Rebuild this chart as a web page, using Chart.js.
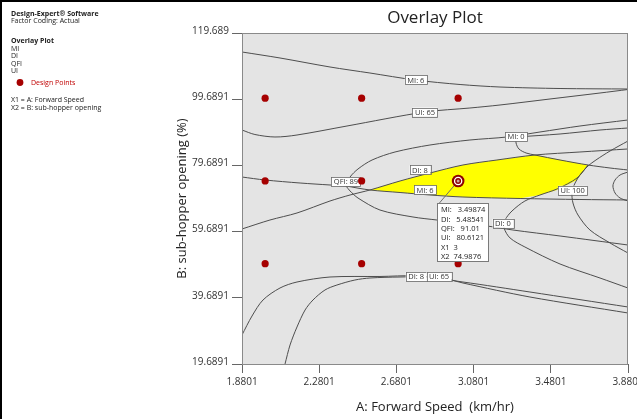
<!DOCTYPE html>
<html>
<head>
<meta charset="utf-8">
<script src="https://cdn.jsdelivr.net/npm/chart.js@4.4.1/dist/chart.umd.min.js"></script>
<style>
  html, body { margin: 0; padding: 0; background: #ffffff; }
  canvas { display: block; }
</style>
</head>
<body>
<canvas id="overlay" width="637" height="419"></canvas>
<script>
// Axis ticks (factor ranges)
const xTicks = [1.8801, 2.2801, 2.6801, 3.0801, 3.4801, 3.8801];
const xTickLabels = ['1.8801', '2.2801', '2.6801', '3.0801', '3.4801', '3.8801'];
const yTicks = [19.6891, 39.6891, 59.6891, 79.6891, 99.6891, 119.6891];
const yTickLabels = ['19.6891', '39.6891', '59.6891', '79.6891', '99.6891', '119.689'];

// Design points: A = forward speed (km/hr), B = sub-hopper opening (%)
const designSpeed   = [2.0, 2.5, 3.0, 2.0, 2.5, 3.0, 2.0, 2.5, 3.0];
const designOpening = [100, 100, 100, 75, 75, 75, 50, 50, 50];

// Contour traces, [speed, opening]
const mi6Upper = [[1.880,113.95],[2.077,112.14],[2.336,109.42],[2.543,107.60],[2.777,105.49],[3.010,104.13],[3.217,103.37],[3.528,102.92],[3.880,102.77]];
const ui65Upper = [[1.880,90.38],[1.947,89.02],[2.051,88.27],[2.165,88.87],[2.424,91.59],[2.828,95.82],[3.061,97.03],[3.217,97.94],[3.476,99.75],[3.735,101.56],[3.880,102.62]];
const mi0Arc = [[2.419,73.47],[2.440,76.18],[2.481,78.60],[2.554,81.32],[2.673,83.74],[2.854,85.85],[3.061,87.36],[3.253,88.27],[3.424,89.78],[3.631,91.59],[3.880,93.41]];
const mi0Branch = [[3.300,88.27],[3.528,89.18],[3.735,90.38],[3.880,90.99]];
const mi0Hook = [[3.300,88.27],[3.300,86.46],[3.315,84.65],[3.352,83.44],[3.398,82.83],[3.528,81.32],[3.673,79.81],[3.787,78.90],[3.880,78.30]];
const qfiLeft = [[1.880,76.18],[1.999,75.28],[2.181,74.37],[2.336,73.77],[2.419,73.47]];
const qfiLower = [[2.419,73.47],[2.440,71.96],[2.481,69.84],[2.595,66.21],[2.766,64.10],[2.890,63.19],[3.150,61.38],[3.284,60.17],[3.528,58.36],[3.880,55.64]];
const di8Upper = [[1.880,60.48],[2.025,63.19],[2.165,65.31],[2.336,68.93],[2.440,70.75],[2.543,72.26],[2.699,74.98],[2.854,77.39],[3.025,79.81],[3.201,81.32],[3.398,82.83],[3.631,83.74],[3.880,84.65]];
const mi6Lower = [[2.419,73.47],[2.543,72.26],[2.699,71.50],[2.854,70.75],[3.025,70.14],[3.321,69.69],[3.631,69.39],[3.880,69.24]];
const di0 = [[3.673,79.81],[3.616,75.88],[3.512,72.56],[3.424,70.75],[3.346,68.93],[3.279,65.91],[3.243,63.19],[3.238,60.78],[3.269,57.76],[3.346,55.04],[3.528,49.90],[3.735,45.67],[3.880,42.65]];
const ui100 = [[3.880,87.06],[3.787,84.04],[3.714,81.32],[3.673,79.51],[3.631,76.79],[3.606,74.37],[3.590,71.65],[3.595,68.33],[3.621,64.70],[3.683,60.17],[3.787,56.25],[3.880,53.22]];
const rightLoop = [[3.880,77.69],[3.839,76.79],[3.813,75.28],[3.802,73.47],[3.813,71.35],[3.839,69.84],[3.880,68.93]];
const di8Lower = [[1.880,28.45],[1.932,34.19],[1.989,39.03],[2.077,42.65],[2.165,44.46],[2.336,45.97],[2.595,46.13],[2.777,46.28],[3.025,44.46],[3.372,41.44],[3.880,36.91]];
const ui65Lower = [[2.103,19.69],[2.129,25.43],[2.165,30.87],[2.207,36.01],[2.248,39.03],[2.310,42.05],[2.372,43.55],[2.465,45.06],[2.543,45.67],[2.699,45.97],[2.896,45.97],[3.025,44.16],[3.372,39.93],[3.880,35.10]];

// Region where every criterion is met
const feasibleSpeed   = [2.543, 2.699, 2.854, 3.025, 3.201, 3.398, 3.673, 3.616, 3.512, 3.424, 3.321, 3.113, 2.854, 2.699];
const feasibleOpening = [72.26, 74.98, 77.39, 79.81, 81.32, 82.83, 79.81, 75.28, 72.26, 70.75, 69.75, 69.84, 70.75, 71.50];

// Contour labels
const labelTexts   = ['MI: 6', 'UI: 65', 'MI: 0', 'DI: 8', 'QFI: 89', 'MI: 6', 'UI: 100', 'DI: 0', 'DI: 8', 'UI: 65'];
const labelSpeed   = [2.781, 2.828, 3.300, 2.802, 2.419, 2.828, 3.593, 3.232, 2.782, 2.901];
const labelOpening = [105.49, 95.82, 88.36, 78.30, 74.77, 72.26, 72.17, 62.20, 46.13, 46.13];

// Flagged point and its predicted responses
const flagSpeed = 3;
const flagOpening = 74.9876;
const flagRows = ['MI:   3.49874', 'DI:   5.48541', 'QFI:   91.01', 'UI:   80.6121', 'X1  3', 'X2  74.9876'];

// Side panel
const panelLines = ['Design-Expert\u00ae Software', 'Factor Coding: Actual', 'Overlay Plot', 'MI', 'DI', 'QFI', 'UI', 'Design Points', 'X1 = A: Forward Speed', 'X2 = B: sub-hopper opening'];

const FONT = "'Open Sans', 'Noto Sans', sans-serif";
const toXY = arr => arr.map(([x, y]) => ({ x, y }));

const contours = [mi6Upper, ui65Upper, mi0Arc, mi0Branch, mi0Hook, qfiLeft, qfiLower, di8Upper,
                  mi6Lower, di0, ui100, rightLoop, di8Lower, ui65Lower];

const contourSets = contours.map(c => ({
  data: toXY(c),
  showLine: true,
  pointRadius: 0,
  borderColor: '#4e4e4e',
  borderWidth: 1,
  tension: 0.3,
  fill: false,
  order: 1
}));

const designSet = {
  data: designSpeed.map((x, i) => ({ x, y: designOpening[i] })),
  showLine: false,
  pointRadius: 3.6,
  pointBackgroundColor: '#a60000',
  pointBorderColor: '#a60000',
  pointBorderWidth: 0,
  order: 0
};
const designIndex = contourSets.length;

const plotFrame = {
  id: 'plotFrame',
  beforeDraw(chart) {
    const { ctx, chartArea: a } = chart;
    ctx.save();
    ctx.fillStyle = '#ffffff';
    ctx.fillRect(0, 0, chart.width, chart.height);
    ctx.fillStyle = '#e4e4e4';
    ctx.fillRect(a.left, a.top, a.right - a.left, a.bottom - a.top);
    ctx.restore();
  },
  beforeDatasetsDraw(chart) {
    const { ctx, scales: { x, y } } = chart;
    ctx.save();
    ctx.beginPath();
    feasibleSpeed.forEach((s, i) => {
      const px = x.getPixelForValue(s), py = y.getPixelForValue(feasibleOpening[i]);
      if (i === 0) ctx.moveTo(px, py); else ctx.lineTo(px, py);
    });
    ctx.closePath();
    ctx.fillStyle = '#ffff00';
    ctx.fill();
    ctx.restore();
  },
  beforeDatasetDraw(chart, args) {
    if (args.index !== designIndex) return;
    const { ctx, scales: { x, y } } = chart;
    ctx.save();
    ctx.font = `7.5px ${FONT}`;
    ctx.textBaseline = 'middle';
    ctx.textAlign = 'center';
    labelTexts.forEach((t, i) => {
      const cx = x.getPixelForValue(labelSpeed[i]);
      const cy = y.getPixelForValue(labelOpening[i]);
      const w = ctx.measureText(t).width + 5;
      const h = 9;
      ctx.fillStyle = '#ffffff';
      ctx.fillRect(cx - w / 2, cy - h / 2, w, h);
      ctx.strokeStyle = '#6a6a6a';
      ctx.lineWidth = 0.8;
      ctx.strokeRect(Math.round(cx - w / 2) + 0.5, Math.round(cy - h / 2) + 0.5, Math.round(w), h);
      ctx.fillStyle = '#333333';
      ctx.fillText(t, cx, cy + 0.5);
    });
    ctx.restore();
  },
  afterDraw(chart) {
    const { ctx, chartArea: a, scales: { x, y } } = chart;
    ctx.save();
    // plot border
    ctx.strokeStyle = '#8a8a8a';
    ctx.lineWidth = 1;
    ctx.strokeRect(a.left + 0.5, a.top + 0.5, a.right - a.left - 1, a.bottom - a.top);

    // flagged point marker
    const sx = x.getPixelForValue(flagSpeed), sy = y.getPixelForValue(flagOpening);
    const bx = Math.round(sx - 21) + 0.5, by = Math.round(sy + 22) + 0.5;
    ctx.strokeStyle = '#6e6e6e';
    ctx.lineWidth = 1;
    ctx.beginPath();
    ctx.moveTo(bx + 1.5, by);
    const ang = Math.atan2(by - sy, bx + 1.5 - sx);
    ctx.lineTo(sx + Math.cos(ang) * 6, sy + Math.sin(ang) * 6);
    ctx.stroke();

    ctx.fillStyle = '#8e0000';
    ctx.beginPath(); ctx.arc(sx, sy, 6.3, 0, Math.PI * 2); ctx.fill();
    ctx.strokeStyle = '#ffffff';
    ctx.lineWidth = 1.3;
    ctx.beginPath(); ctx.arc(sx, sy, 3.6, 0, Math.PI * 2); ctx.stroke();
    ctx.fillStyle = '#c9a3a3';
    ctx.beginPath(); ctx.arc(sx, sy, 1.5, 0, Math.PI * 2); ctx.fill();

    // response readout box
    const bw = 51, bh = 58;
    ctx.fillStyle = '#ffffff';
    ctx.fillRect(bx, by, bw, bh);
    ctx.strokeStyle = '#7a7a7a';
    ctx.lineWidth = 1;
    ctx.strokeRect(bx, by, bw, bh);
    ctx.fillStyle = '#222222';
    ctx.font = `7.5px ${FONT}`;
    ctx.textAlign = 'left';
    ctx.textBaseline = 'middle';
    flagRows.forEach((r, i) => ctx.fillText(r, bx + 3.5, by + 6.8 + i * 9.3));

    // side panel
    const rowsY = [13.5, 21, 41, 48.5, 56, 63.5, 71, 82.5, 100, 107.5];
    ctx.textBaseline = 'middle';
    panelLines.forEach((t, i) => {
      const bold = i === 0 || i === 2;
      ctx.font = `${bold ? 'bold ' : ''}7px ${FONT}`;
      if (i === 7) {
        ctx.fillStyle = '#a60000';
        ctx.beginPath(); ctx.arc(20, rowsY[i], 3.4, 0, Math.PI * 2); ctx.fill();
        ctx.fillStyle = '#c00000';
        ctx.fillText(t, 31, rowsY[i]);
      } else {
        ctx.fillStyle = '#222222';
        ctx.fillText(t, 11, rowsY[i]);
      }
    });

    // outer frame
    ctx.fillStyle = '#000000';
    ctx.fillRect(0, 0, chart.width, 2);
    ctx.fillRect(0, 0, 2, chart.height);
    ctx.restore();
  }
};

new Chart(document.getElementById('overlay'), {
  type: 'scatter',
  data: { datasets: [...contourSets, designSet] },
  options: {
    responsive: false,
    animation: false,
    events: [],
    layout: { padding: { left: 160, right: 9, top: 0, bottom: 0 } },
    plugins: {
      legend: { display: false },
      tooltip: { enabled: false },
      title: {
        display: true,
        text: 'Overlay Plot',
        fullSize: false,
        color: '#222222',
        font: { family: FONT, size: 17, weight: 'normal', lineHeight: 1.2 },
        padding: { top: 7.5, bottom: 5.1 }
      }
    },
    scales: {
      x: {
        type: 'linear',
        min: 1.8801,
        max: 3.8801,
        afterBuildTicks: s => { s.ticks = xTicks.map(v => ({ value: v })); },
        afterFit: s => { s.height = 55; s.paddingLeft = 0; s.paddingRight = 0; },
        ticks: {
          autoSkip: false, maxRotation: 0, padding: 3,
          color: '#333333', font: { family: FONT, size: 10 },
          callback: (v, i) => xTickLabels[i]
        },
        grid: { drawOnChartArea: false, drawTicks: true, tickLength: 9, color: '#666666' },
        border: { display: false },
        title: {
          display: true, text: 'A: Forward Speed  (km/hr)', color: '#222222',
          font: { family: FONT, size: 13, lineHeight: 1.2 }, padding: { top: 0, bottom: 4.2 }
        }
      },
      y: {
        type: 'linear',
        min: 19.6891,
        max: 119.6891,
        afterBuildTicks: s => { s.ticks = yTicks.map(v => ({ value: v })); },
        afterFit: s => { s.width = 82; s.paddingTop = 0; s.paddingBottom = 0; },
        ticks: {
          autoSkip: false, padding: 3, labelOffset: -2,
          color: '#333333', font: { family: FONT, size: 10 },
          callback: (v, i) => yTickLabels[i]
        },
        grid: { drawOnChartArea: false, drawTicks: true, tickLength: 10, color: '#666666' },
        border: { display: false },
        title: {
          display: true, text: 'B: sub-hopper opening (%)', color: '#222222',
          font: { family: FONT, size: 13, lineHeight: 1.2 }, padding: { top: 14, bottom: 0 }
        }
      }
    }
  },
  plugins: [plotFrame]
});
</script>
</body>
</html>
